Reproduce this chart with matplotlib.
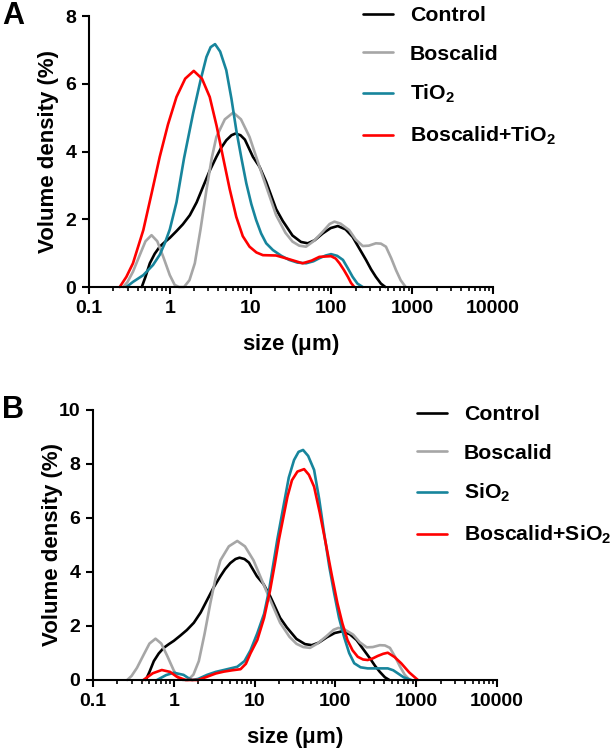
import numpy as np
import matplotlib
matplotlib.use('Agg')
import matplotlib.pyplot as plt
import matplotlib.ticker as mticker

plt.rcParams['font.family'] = ['Liberation Sans', 'DejaVu Sans']
plt.rcParams['font.weight'] = 'bold'
plt.rcParams['mathtext.fontset'] = 'custom'
plt.rcParams['mathtext.bf'] = 'Liberation Sans:bold'
plt.rcParams['mathtext.rm'] = 'Liberation Sans:bold'
plt.rcParams['mathtext.default'] = 'bf'

# particle size distributions, size in um, volume density in %

control_x = [0.45, 0.5, 0.566, 0.65, 0.75, 0.87, 1.0, 1.21, 1.45, 1.77, 2.15, 2.58, 3.1, 3.77, 4.3, 5.0, 5.8, 6.5, 7.5, 8.5,
             10.7, 12.9, 15.6, 20.7, 25, 33, 42, 51, 62, 78, 98, 120, 150, 183, 220, 268, 310, 355, 410, 465]
control_y = [0, 0.3, 0.70, 0.98, 1.19, 1.33, 1.45, 1.65, 1.85, 2.12, 2.5, 2.96, 3.42, 3.84, 4.1, 4.33, 4.48, 4.53, 4.48, 4.35,
             3.84, 3.55, 3.1, 2.3, 1.95, 1.52, 1.33, 1.29, 1.38, 1.58, 1.74, 1.80, 1.7, 1.48, 1.15, 0.80, 0.52, 0.30, 0.1, 0]

boscalid_x = [0.265, 0.3, 0.35, 0.426, 0.5, 0.594, 0.7, 0.83, 1.0, 1.15, 1.3, 1.5, 1.75, 2.04, 2.4, 2.84, 3.3, 3.77, 4.8, 6.1,
              7.6, 9.7, 14.2, 20.7, 27, 33, 40, 48.5, 60, 78, 95, 109, 130, 166, 200, 244, 290, 355, 410, 473, 550, 630, 720, 830]
boscalid_y = [0, 0.15, 0.45, 0.95, 1.35, 1.53, 1.35, 0.89, 0.35, 0.06, 0, 0, 0.2, 0.7, 1.7, 2.86, 3.8, 4.43, 4.95, 5.15,
              4.95, 4.43, 3.25, 2.12, 1.6, 1.34, 1.22, 1.19, 1.35, 1.63, 1.86, 1.93, 1.87, 1.68, 1.4, 1.21, 1.22, 1.29, 1.28, 1.19, 0.85, 0.50, 0.2, 0]

tio2_x = [0.29, 0.35, 0.47, 0.62, 0.75, 0.87, 1.0, 1.21, 1.5, 1.94, 2.4, 2.84, 3.2, 3.63, 4.2, 5.0, 5.8, 6.65, 7.7, 8.85,
          10.2, 11.7, 13.5, 15.6, 18.9, 24, 30, 38, 48.5, 60, 71, 85, 99, 118, 139, 160, 183, 210, 244]
tio2_y = [0, 0.15, 0.35, 0.65, 0.95, 1.3, 1.7, 2.5, 3.8, 5.12, 6.1, 6.79, 7.08, 7.17, 6.95, 6.40, 5.55, 4.63, 3.8, 3.06,
          2.45, 1.98, 1.58, 1.29, 1.09, 0.92, 0.80, 0.72, 0.70, 0.76, 0.85, 0.93, 0.97, 0.92, 0.80, 0.55, 0.30, 0.1, 0]

bos_tio2_x = [0.24, 0.29, 0.35, 0.47, 0.6, 0.75, 0.95, 1.21, 1.55, 1.98, 2.5, 3.12, 3.8, 4.55, 5.5, 6.65, 8.0, 9.7, 11.8, 14.2,
              20.7, 30, 44, 57, 71, 99, 113, 126, 143, 160, 175, 192]
bos_tio2_y = [0, 0.3, 0.70, 1.68, 2.8, 3.84, 4.8, 5.61, 6.15, 6.38, 6.15, 5.61, 4.75, 3.84, 2.9, 2.07, 1.5, 1.19, 1.02, 0.94,
              0.93, 0.82, 0.70, 0.78, 0.89, 0.91, 0.84, 0.70, 0.5, 0.30, 0.12, 0]

sio2_x = [0.62, 0.8, 1.0, 1.32, 1.5, 1.68, 2.0, 2.58, 3.3, 4.16, 6.1, 7.5, 8.9, 10.8, 13.1, 15.1, 19.1, 23.1, 26.5, 30.8,
          35, 39.8, 46, 54.5, 63, 72.6, 84, 96.6, 111, 128, 148, 171, 205, 251, 445, 520, 590, 700, 870]
sio2_y = [0, 0.18, 0.27, 0.19, 0.08, 0, 0.04, 0.19, 0.3, 0.37, 0.49, 0.7, 1.1, 1.73, 2.45, 3.33, 5.2, 6.54, 7.5, 8.15,
          8.45, 8.52, 8.3, 7.78, 6.7, 5.43, 4.2, 3.21, 2.3, 1.60, 1.0, 0.62, 0.47, 0.43, 0.43, 0.36, 0.25, 0.1, 0]

bos_sio2_x = [0.42, 0.55, 0.71, 0.9, 1.09, 1.4, 2.0, 2.58, 3.3, 4.16, 5.3, 6.7, 7.8, 8.9, 10.8, 13.1, 15.5, 17.8, 20, 25.5,
              29, 33.9, 41, 47, 54.5, 64, 76, 90, 106, 122, 141, 163, 189, 220, 251, 290, 334, 390, 445, 540, 652, 820, 1050]
bos_sio2_y = [0, 0.25, 0.37, 0.3, 0.12, 0, 0, 0.12, 0.24, 0.31, 0.36, 0.40, 0.6, 0.99, 1.48, 2.3, 3.3, 4.3, 5.2, 6.79,
              7.4, 7.72, 7.81, 7.6, 7.16, 6.2, 5.06, 3.9, 2.84, 2.1, 1.48, 1.1, 0.86, 0.76, 0.74, 0.8, 0.89, 0.97, 1.01, 0.85, 0.62, 0.28, 0]

c_black = 'black'
c_gray = '#a6a6a6'
c_teal = '#17859c'
c_red = '#ff0000'

fig = plt.figure(figsize=(6.16, 7.5), dpi=100)
axA = fig.add_axes([89/616, 1-287/750, 404/616, 271/750])
axB = fig.add_axes([93/616, 1-680/750, 404/616, 270/750])

panels = [
    (axA, 'A', 8, [0, 2, 4, 6, 8],
     [(control_x, control_y, c_black, 'Control'),
      (boscalid_x, boscalid_y, c_gray, 'Boscalid'),
      (tio2_x, tio2_y, c_teal, r'TiO$_2$'),
      (bos_tio2_x, bos_tio2_y, c_red, r'Boscalid+TiO$_2$')],
     (363/616, 1-6/750)),
    (axB, 'B', 10, [0, 2, 4, 6, 8, 10],
     [(control_x, control_y, c_black, 'Control'),
      (boscalid_x, boscalid_y, c_gray, 'Boscalid'),
      (sio2_x, sio2_y, c_teal, r'SiO$_2$'),
      (bos_sio2_x, bos_sio2_y, c_red, r'Boscalid+SiO$_2$')],
     (417/616, 1-405/750)),
]

for ax, letter, ymax, yticks, series, leg_pos in panels:
    lns = []
    for x, y, c, lab in series:
        lns += ax.plot(x, y, c=c, lw=1.9, label=lab, solid_capstyle='round', solid_joinstyle='round', clip_on=False)

    ax.set_xscale('log')
    ax.set_xlim(0.1, 10000)
    ax.set_ylim(0, ymax)
    ax.set_yticks(yticks)
    ax.xaxis.set_major_locator(mticker.LogLocator(base=10, numticks=10))
    ax.xaxis.set_minor_locator(mticker.LogLocator(base=10, subs=np.arange(2, 10), numticks=20))
    ax.xaxis.set_major_formatter(mticker.FuncFormatter(lambda v, p: f'{v:g}'))
    ax.xaxis.set_minor_formatter(mticker.NullFormatter())

    for s in ['top', 'right']:
        ax.spines[s].set_visible(False)
    for s in ['left', 'bottom']:
        ax.spines[s].set_linewidth(1.5)

    ax.tick_params(which='major', direction='out', length=5, width=1.5, labelsize=14, pad=4)
    ax.tick_params(which='minor', direction='out', length=3, width=1.2)
    for t in ax.get_xticklabels() + ax.get_yticklabels():
        t.set_fontweight('bold')

    ax.set_xlabel(r'size ($\mu$m)', fontsize=16, fontweight='bold')
    ax.set_ylabel('Volume density (%)', fontsize=16, fontweight='bold')
    ax.xaxis.set_label_coords(0.5, -0.165)
    ax.yaxis.set_label_coords(-0.075, 0.5)

    labs = [l.get_label() for l in lns]
    ax.legend(lns, labs, loc='upper left', bbox_to_anchor=leg_pos, bbox_transform=fig.transFigure,
              frameon=False, fontsize=15.3, handlelength=1.4, handletextpad=0.8,
              labelspacing=0.92, borderpad=0, borderaxespad=0)

    pos = ax.get_position()
    fig.text(2/616, pos.y1, letter, fontsize=22, fontweight='bold', va='center', ha='left')

fig.savefig('out.png', dpi=100)
